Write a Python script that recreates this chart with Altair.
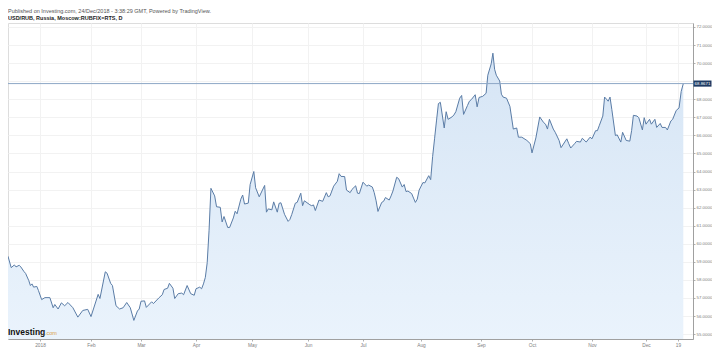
import altair as alt
import pandas as pd

# ---------------- data ----------------
dates = [
    "2017-12-12", "2017-12-14", "2017-12-16", "2017-12-17", "2017-12-19", "2017-12-20", "2017-12-22",
    "2017-12-23", "2017-12-25", "2017-12-26", "2017-12-27", "2017-12-28", "2017-12-30", "2017-12-31",
    "2018-01-02", "2018-01-04", "2018-01-07", "2018-01-09", "2018-01-10", "2018-01-12", "2018-01-14",
    "2018-01-16", "2018-01-18", "2018-01-21", "2018-01-24", "2018-01-27", "2018-01-30",
    "2018-02-01", "2018-02-05", "2018-02-06", "2018-02-09", "2018-02-10", "2018-02-12", "2018-02-13",
    "2018-02-15", "2018-02-17", "2018-02-19", "2018-02-21", "2018-02-23", "2018-02-25", "2018-02-27",
    "2018-02-28",
    "2018-03-01", "2018-03-03", "2018-03-04", "2018-03-07", "2018-03-08", "2018-03-11", "2018-03-13",
    "2018-03-14", "2018-03-16", "2018-03-17", "2018-03-19", "2018-03-20", "2018-03-22", "2018-03-24",
    "2018-03-25", "2018-03-27", "2018-03-29", "2018-03-31",
    "2018-04-01", "2018-04-03", "2018-04-04", "2018-04-05", "2018-04-06", "2018-04-07", "2018-04-08",
    "2018-04-09", "2018-04-11", "2018-04-12", "2018-04-14", "2018-04-15", "2018-04-16", "2018-04-18",
    "2018-04-19", "2018-04-21", "2018-04-22", "2018-04-23", "2018-04-25", "2018-04-26", "2018-04-27",
    "2018-04-29", "2018-04-30",
    "2018-05-02", "2018-05-03", "2018-05-05", "2018-05-08", "2018-05-09", "2018-05-10", "2018-05-12",
    "2018-05-13", "2018-05-15", "2018-05-16", "2018-05-17", "2018-05-19", "2018-05-21", "2018-05-22",
    "2018-05-23", "2018-05-25", "2018-05-26", "2018-05-28", "2018-05-29", "2018-05-30",
    "2018-06-02", "2018-06-03", "2018-06-04", "2018-06-05", "2018-06-07", "2018-06-09", "2018-06-11",
    "2018-06-12", "2018-06-13", "2018-06-15", "2018-06-17", "2018-06-18", "2018-06-19", "2018-06-21",
    "2018-06-22", "2018-06-24", "2018-06-25", "2018-06-27", "2018-06-28", "2018-06-29",
    "2018-07-01", "2018-07-03", "2018-07-04", "2018-07-06", "2018-07-07", "2018-07-08", "2018-07-09",
    "2018-07-11", "2018-07-12", "2018-07-13", "2018-07-15", "2018-07-16", "2018-07-17", "2018-07-19",
    "2018-07-20", "2018-07-22", "2018-07-23", "2018-07-24", "2018-07-25", "2018-07-27", "2018-07-28",
    "2018-07-29", "2018-07-30", "2018-07-31",
    "2018-08-02", "2018-08-03", "2018-08-05", "2018-08-06", "2018-08-07", "2018-08-08", "2018-08-09",
    "2018-08-10", "2018-08-11", "2018-08-13", "2018-08-14", "2018-08-15", "2018-08-17", "2018-08-18",
    "2018-08-19", "2018-08-21", "2018-08-22", "2018-08-23", "2018-08-25", "2018-08-26", "2018-08-27",
    "2018-08-29", "2018-08-30", "2018-08-31",
    "2018-09-02", "2018-09-04", "2018-09-05", "2018-09-07", "2018-09-08", "2018-09-09", "2018-09-10",
    "2018-09-12", "2018-09-13", "2018-09-14", "2018-09-16", "2018-09-18", "2018-09-20", "2018-09-22",
    "2018-09-23", "2018-09-25", "2018-09-28", "2018-09-30",
    "2018-10-01", "2018-10-03", "2018-10-05", "2018-10-07", "2018-10-08", "2018-10-09", "2018-10-10",
    "2018-10-12", "2018-10-13", "2018-10-15", "2018-10-16", "2018-10-19", "2018-10-20", "2018-10-21",
    "2018-10-23", "2018-10-24", "2018-10-26", "2018-10-27", "2018-10-29", "2018-10-31",
    "2018-11-01", "2018-11-03", "2018-11-04", "2018-11-05", "2018-11-07", "2018-11-08", "2018-11-09",
    "2018-11-10", "2018-11-11", "2018-11-12", "2018-11-14", "2018-11-15", "2018-11-17", "2018-11-18",
    "2018-11-20", "2018-11-22", "2018-11-23", "2018-11-24", "2018-11-26", "2018-11-27", "2018-11-29",
    "2018-11-30",
    "2018-12-01", "2018-12-03", "2018-12-04", "2018-12-06", "2018-12-07", "2018-12-09", "2018-12-10",
    "2018-12-12", "2018-12-13", "2018-12-15", "2018-12-16", "2018-12-18", "2018-12-20", "2018-12-22",
    "2018-12-24",
]

values = [
    59.31, 58.68, 58.83, 58.72, 58.81, 58.72, 58.46, 58.36, 57.96, 57.69, 57.78, 57.60, 57.64, 57.42,
    56.91, 57.02, 57.02, 56.46, 56.64, 56.39, 56.73, 56.57, 56.75, 56.46, 55.94, 56.31, 56.37,
    55.97, 57.20, 56.97, 58.45, 58.37, 57.81, 57.69, 56.57, 56.39, 56.46, 56.75, 56.46, 55.76, 56.28,
    56.39,
    56.82, 56.84, 56.48, 56.79, 56.69, 57.00, 57.18, 57.47, 57.54, 57.81, 57.54, 56.97, 57.24, 57.27,
    57.18, 57.69, 57.24, 57.15,
    57.51, 57.60, 57.51, 57.78, 58.14, 58.95, 60.75, 63.07, 62.65, 62.05, 62.02, 61.21, 61.51, 60.90,
    60.90, 61.43, 61.80, 61.66, 62.47, 62.70, 62.20, 62.25, 63.28,
    64.00, 63.10, 62.60, 63.23, 61.75, 61.93, 61.88, 62.32, 61.75, 62.24, 62.27, 61.63, 61.24, 61.35,
    61.62, 62.25, 62.29, 62.80, 62.11, 62.38,
    62.16, 62.11, 62.15, 61.84, 62.42, 62.35, 62.83, 62.60, 62.65, 63.19, 63.46, 63.88, 63.73, 63.72,
    62.97, 62.83, 63.01, 63.21, 62.80, 62.78,
    63.41, 63.19, 63.25, 63.14, 62.83, 62.38, 61.79, 62.29, 62.35, 62.56, 62.42, 62.65, 62.92, 63.68,
    63.61, 63.14, 63.28, 62.89, 62.92, 62.78, 62.53, 62.29, 62.47, 62.97,
    63.39, 63.37, 63.77, 63.55, 64.82, 65.81, 66.80, 67.76, 67.83, 66.41, 67.31, 66.89, 67.02, 67.13,
    67.31, 68.06, 68.21, 67.16, 67.65, 67.89, 67.98, 68.25, 67.58, 68.10,
    68.16, 68.33, 69.33, 69.96, 70.55, 69.66, 69.33, 69.01, 68.28, 68.12, 68.06, 67.61, 66.35, 66.41,
    65.90, 65.90, 65.72, 65.54,
    65.03, 65.86, 67.02, 66.71, 66.62, 66.35, 66.89, 66.35, 66.17, 65.72, 65.32, 65.81, 65.54, 65.30,
    65.54, 65.67, 65.63, 65.84, 65.63, 65.90,
    65.81, 66.26, 66.26, 66.53, 67.07, 68.12, 68.01, 67.89, 68.12, 67.44, 65.99, 66.03, 65.63, 66.17,
    65.72, 65.68, 66.26, 67.11, 67.07, 66.98, 66.30, 66.98,
    66.62, 66.89, 66.62, 66.89, 66.44, 66.66, 66.44, 66.44, 66.30, 66.80, 66.89, 67.38, 67.52, 68.43,
    68.8671,
]

last_value = 68.8671
y_ticks = list(range(55, 73))
x_tick_dates = ["2018-01-01", "2018-02-01", "2018-03-01", "2018-04-01", "2018-05-01", "2018-06-01",
                "2018-07-01", "2018-08-01", "2018-09-01", "2018-10-01", "2018-11-01", "2018-12-01",
                "2018-12-19"]
x_tick_labels = ["2018", "Feb", "Mar", "Apr", "May", "Jun", "Jul", "Aug", "Sep", "Oct", "Nov", "Dec", "19"]

title_text = "Published on Investing.com, 24/Dec/2018 - 3:38:29 GMT, Powered by TradingView."
subtitle_text = "USD/RUB, Russia, Moscow:RUBFIX=RTS, D"

# ---------------- layout (scale configuration) ----------------
W, H = 685, 316
PAD = {"left": 0, "top": 15, "right": 19, "bottom": 9}
Y_MIN, Y_MAX = 54.73, 72.22
# the original axis spaces trading sessions, so months get unequal widths (piecewise scale):
scale_dates = ["2017-12-12", "2018-01-01", "2018-02-01", "2018-03-01", "2018-04-01", "2018-05-01",
               "2018-06-01", "2018-07-01", "2018-08-01", "2018-09-01", "2018-10-01", "2018-11-01",
               "2018-12-01", "2018-12-19", "2018-12-24", "2018-12-31"]
scale_px = [0, 32, 83, 133, 188, 244, 300, 355, 413, 473, 524, 584, 638, 670, 675.3, W]


def ms(d):
    return int(pd.Timestamp(d, tz="UTC").timestamp() * 1000)


df = pd.DataFrame({"date": dates, "t": [ms(d) for d in dates], "value": values})

FONT = "Liberation Sans"
label_expr = "[{}][indexof([{}], utcFormat(datum.value, '%Y-%m-%d'))]".format(
    ",".join("'%s'" % s for s in x_tick_labels),
    ",".join("'%s'" % s for s in x_tick_dates),
)
# the tick hidden behind the last-price box is not labelled
y_label_expr = f"abs(datum.value - {last_value}) < 0.5 ? '' : format(datum.value, '.4f')"

x_scale = alt.Scale(domain=[ms(d) for d in scale_dates], range=scale_px, nice=False, zero=False)
y_scale = alt.Scale(domain=[Y_MIN, Y_MAX], nice=False, zero=False)

x_enc = alt.X(
    "t:Q", scale=x_scale,
    axis=alt.Axis(
        title=None, values=[ms(d) for d in x_tick_dates], tickCount=len(x_tick_dates),
        labelExpr=label_expr,
        labelFontSize=4.8, labelColor="#808080", labelFont=FONT, labelPadding=1,
        tickSize=2, tickColor="#b0b0b0", domainColor="#a0a0a0",
        grid=True, gridColor="#f2f2f2", labelFlush=False, labelOverlap=False,
    ),
)
y_enc = alt.Y(
    "value:Q", scale=y_scale,
    axis=alt.Axis(
        title=None, orient="right", values=y_ticks, tickCount=len(y_ticks), labelExpr=y_label_expr,
        labelFontSize=4.4, labelColor="#808080", labelFont=FONT, labelPadding=1,
        tickSize=2, tickColor="#b0b0b0", domainColor="#a0a0a0",
        grid=True, gridColor="#f2f2f2", labelOverlap=False,
    ),
)

base = alt.Chart(df)

area = base.mark_area(
    color=alt.Gradient(
        gradient="linear",
        stops=[alt.GradientStop(color="#eaf3fc", offset=0), alt.GradientStop(color="#d6e5f5", offset=1)],
        x1=1, x2=1, y1=1, y2=0,
    ),
    opacity=1,
).encode(x=x_enc, y=y_enc, y2=alt.datum(Y_MIN))

line = base.mark_line(color="#5a7ca6", strokeWidth=1).encode(x=x_enc, y=y_enc)

price_rule = alt.Chart().mark_rule(color="#8ea8c6", strokeWidth=1).encode(
    y=alt.datum(last_value, scale=y_scale)
)

box = alt.Chart().mark_point(
    shape="M-1,-0.34L1,-0.34L1,0.34L-1,0.34Z", filled=True, size=324, color="#1d3a63", opacity=1,
).encode(x=alt.value(W + 9.5), y=alt.datum(last_value))

box_text = alt.Chart().mark_text(
    fontSize=4.4, color="white", font=FONT, align="center", baseline="middle",
).encode(x=alt.value(W + 9.5), y=alt.datum(last_value), text=alt.value(f"{last_value:.4f}"))

logo1 = alt.Chart().mark_text(
    fontSize=8.5, fontWeight="bold", color="#111111", font=FONT, align="left", baseline="alphabetic",
).encode(x=alt.value(0), y=alt.value(H - 4), text=alt.value("Investing"))

logo2 = alt.Chart().mark_text(
    fontSize=5.5, color="#d9a24a", font=FONT, align="left", baseline="alphabetic",
).encode(x=alt.value(37), y=alt.value(H - 4), text=alt.value(".com"))

chart = alt.layer(area, line, price_rule, box, box_text, logo1, logo2).properties(
    width=W, height=H, padding=PAD, autosize=alt.AutoSizeParams(type="none"),
    title=alt.TitleParams(
        text=title_text, subtitle=subtitle_text, anchor="start", font=FONT, dx=2,
        fontSize=5.5, fontWeight="normal", color="#555555",
        subtitleFont=FONT, subtitleFontSize=5.5, subtitleFontWeight="bold", subtitleColor="#222222",
        subtitlePadding=1.5, offset=2,
    ),
).configure_view(stroke=None).configure(background="white")

chart.save("out.html", embed_options={"renderer": "svg", "actions": False})
